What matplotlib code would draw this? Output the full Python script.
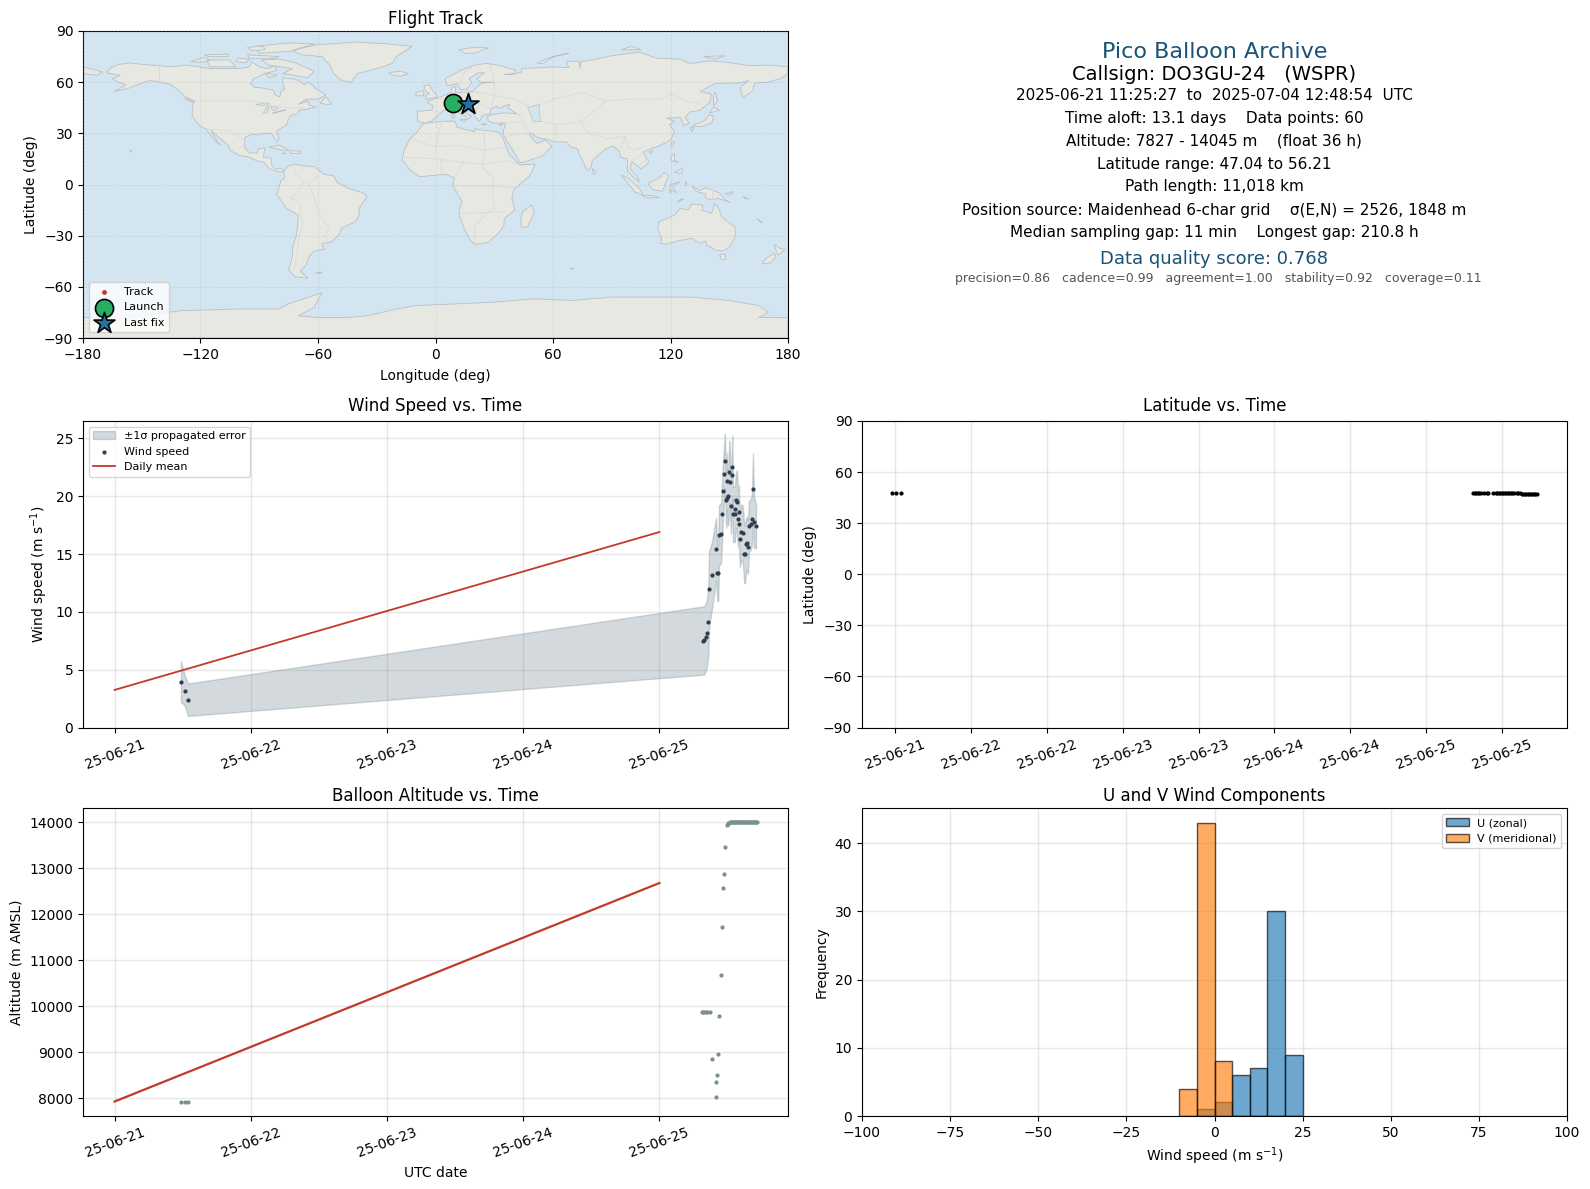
import datetime as dt
import numpy as np
import matplotlib
matplotlib.use("Agg")
import matplotlib.pyplot as plt
import matplotlib.dates as mdates
from matplotlib.patches import Polygon

# ---------- data ----------
T0 = mdates.date2num(dt.datetime(2025, 6, 21))
wind_t = [0.487, 0.516, 0.538, 4.322, 4.329, 4.342, 4.349, 4.359, 4.364, 4.386, 4.415, 4.425, 4.432, 4.437, 4.452,
          4.459, 4.466, 4.474, 4.481, 4.489, 4.496, 4.498, 4.506, 4.513, 4.518, 4.525, 4.533, 4.535, 4.540, 4.555,
          4.556, 4.562, 4.569, 4.577, 4.584, 4.585, 4.591, 4.599, 4.611, 4.623, 4.628, 4.638, 4.643, 4.650, 4.657,
          4.672, 4.679, 4.687, 4.694, 4.709]
wind_v = [3.96, 3.18, 2.40, 7.52, 7.55, 7.86, 8.21, 9.16, 11.94, 13.15, 15.41, 13.33, 13.33, 16.62, 16.77,
          18.44, 20.44, 21.94, 23.04, 19.66, 21.31, 19.83, 20.01, 22.09, 21.22, 19.14, 21.83, 22.52, 18.44, 18.44,
          18.88, 19.69, 19.51, 18.01, 18.62, 17.58, 16.28, 16.88, 16.80, 14.98, 14.98, 15.84, 15.93, 15.58, 17.40,
          17.58, 18.01, 20.61, 17.75, 17.40]
wind_s = [1.76, 1.30, 1.40, 2.95, 2.95, 2.90, 2.90, 2.90, 3.30, 2.90, 2.70, 2.40, 2.40, 2.60, 2.60,
          2.50, 2.50, 2.40, 2.35, 2.40, 2.45, 2.40, 2.45, 2.70, 2.50, 2.40, 2.60, 2.70, 2.40, 2.40,
          2.30, 2.40, 2.70, 2.40, 2.30, 2.40, 2.40, 2.40, 2.40, 2.50, 2.50, 2.30, 2.30, 2.30, 2.20,
          2.20, 2.20, 3.10, 2.20, 1.90]
mean_t = [0.0, 4.0]
wind_mean = [3.25, 16.9]
alt_mean = [7930, 12680]

alt_t = [0.487, 0.516, 0.538, 4.312, 4.320, 4.330, 4.340, 4.350, 4.373, 4.386, 4.415, 4.415, 4.422, 4.430, 4.437,
         4.452, 4.459, 4.466, 4.474, 4.481, 4.498, 4.502, 4.509, 4.516, 4.522, 4.530, 4.537, 4.544, 4.552, 4.558,
         4.566, 4.573, 4.580, 4.587, 4.594, 4.601, 4.608, 4.616, 4.623, 4.630, 4.637, 4.644, 4.651, 4.658, 4.666,
         4.673, 4.680, 4.687, 4.694, 4.702, 4.709, 4.716]
alt_m = [7920, 7920, 7920, 9870, 9870, 9870, 9870, 9870, 9870, 8848, 8022, 8348, 8500, 8957, 9783,
         10674, 11717, 12565, 12870, 13457, 13935, 13985, 13995, 14000, 14005, 14005, 14000, 14005, 14010, 14005,
         14005, 14010, 14010, 14005, 14005, 14010, 14005, 14005, 14010, 14005, 14005, 14010, 14005, 14005, 14010,
         14005, 14010, 14005, 14005, 14010, 14005, 14005]

lat_t = [0.476, 0.505, 0.538, 4.31, 4.32, 4.33, 4.34, 4.35, 4.36, 4.38, 4.40, 4.41, 4.44, 4.46, 4.47, 4.48, 4.49,
         4.50, 4.51, 4.52, 4.53, 4.54, 4.55, 4.56, 4.57, 4.58, 4.60, 4.61, 4.62, 4.63, 4.64, 4.65, 4.66, 4.67, 4.68,
         4.69, 4.70, 4.71, 4.72, 4.73]
lat_v = [47.9, 47.9, 47.9, 48.0, 48.0, 48.0, 48.0, 48.0, 48.0, 48.0, 48.0, 48.0, 48.0, 48.0, 48.0, 48.0, 48.0,
         48.0, 48.0, 48.0, 48.0, 48.0, 48.0, 48.0, 47.9, 47.9, 47.9, 47.8, 47.6, 47.4, 47.3, 47.3, 47.3, 47.3, 47.3,
         47.3, 47.4, 47.3, 47.3, 47.3]

track_lon = [9.0, 9.8, 10.6, 12.0, 14.0, 15.2, 16.5]
track_lat = [47.9, 47.9, 47.9, 48.0, 48.0, 47.6, 47.3]
launch = (9.0, 47.9)
last_fix = (16.5, 47.0)

bin_left = [-10, -5, 0, 5, 10, 15, 20]
u_counts = [0, 1, 2, 6, 7, 30, 9]
v_counts = [4, 43, 8, 0, 0, 0, 0]

day_ticks = [0, 1, 2, 3, 4]
half_day_ticks = [0.5, 1.0, 1.5, 2.0, 2.5, 3.0, 3.5, 4.0, 4.5]

LAND = {
 "north_america": [(-168,65.5),(-166,68.3),(-162,70.3),(-156.5,71.3),(-150,70.5),(-141,69.6),(-135,69),(-128,70),(-124,69.5),(-115,68),(-108,68),(-100,68),(-95,69),(-94,72),(-90,69),(-86,68),(-82,69.5),(-81,67),(-87,65),(-93,62),(-94.5,59),(-92.5,57),(-88,56.5),(-82.5,55),(-82,52.5),(-79.5,51.3),(-79,54.5),(-77,56),(-78,59),(-78,62.5),(-73,62),(-70,61),(-67,58.5),(-64.5,60.3),(-61.5,56.5),(-56,52.5),(-60,50),(-66,50),(-70,47),(-65,49),(-64.5,46.5),(-61,45.5),(-66,44),(-70,43.5),(-70,41.7),(-74,40.5),(-75.5,37.5),(-76,35),(-81,31.5),(-80,26.5),(-81,25),(-82.7,28),(-84,30),(-89,30),(-90,29),(-94,29.5),(-97.3,27.5),(-97.7,22),(-95,18.5),(-91,18.5),(-90.5,21),(-87,21.5),(-88,16),(-84,15.5),(-83.5,11),(-81.5,9),(-79.5,9.5),(-77.3,8.5),(-78,7.5),(-80.5,7.5),(-83,8.3),(-85.7,10),(-87.5,13),(-91.5,14),(-95,16),(-100,17),(-105,20),(-105.5,22.5),(-109,26),(-112.5,29.5),(-114.7,31.7),(-113,28),(-110,23),(-112,25),(-115,29),(-117.2,32.5),(-120.5,34.5),(-122.5,37.5),(-124.3,40.5),(-124,46),(-123,49),(-128,51.5),(-130.5,54.5),(-135,58.5),(-140,60),(-146,61),(-150,59.5),(-153,58),(-158,56),(-164,54.5),(-158,58.5),(-162,60),(-165,62),(-161,64)],
 "greenland": [(-73,78.2),(-68,80),(-60,82),(-40,83.5),(-25,82.5),(-12,81),(-20,75),(-22,71),(-30,68),(-40,65),(-43,60),(-48,61),(-52,65),(-54,70),(-58,75),(-68,76)],
 "baffin": [(-80,73.5),(-72,71.5),(-62,66.5),(-65,62.5),(-72,64),(-78,65),(-73,68),(-85,70),(-89,73)],
 "victoria": [(-117,73),(-105,73),(-102,69),(-115,69)],
 "ellesmere": [(-90,77),(-75,78),(-62,82.5),(-75,83),(-92,81)],
 "banks": [(-125,72),(-118,74.5),(-115,73),(-120,71.5)],
 "devon": [(-96,76),(-80,75),(-82,74),(-95,74)],
 "melville": [(-118,76),(-106,76.5),(-106,75),(-116,75)],
 "axel_heiberg": [(-96,80.5),(-88,81),(-87,79),(-94,78.5)],
 "prince_wales": [(-101,74),(-95,73.5),(-97,71.5),(-102,72)],
 "southampton": [(-87,65.5),(-81,64),(-85,62.5)],
 "newfoundland": [(-59,47.7),(-56,51.5),(-53,47),(-56,47)],
 "vancouver": [(-128,50.5),(-123.5,48.4),(-125,48.7)],
 "cuba": [(-85,22),(-80,23),(-74.5,20),(-78,20)],
 "hispaniola": [(-74,19.8),(-69,19.5),(-68.5,18.3),(-74,18.2)],
 "jamaica": [(-78.3,18.4),(-76.3,18.2),(-77,17.8)],
 "hawaii": [(-156,20.2),(-155,19.8),(-155.7,19)],
 "south_america": [(-77,8.5),(-75,11),(-72,12),(-68,11),(-62,10.5),(-57,6),(-52,5),(-50,1),(-44,-2.5),(-37,-4.8),(-35,-7),(-39,-14),(-39,-18),(-41,-22),(-48,-25.5),(-49,-29),(-53.5,-34),(-58,-34.5),(-57,-38),(-62,-39),(-65,-43),(-66,-47),(-69,-51),(-65,-55),(-72,-54),(-75,-50),(-73,-42),(-73,-37),(-71,-30),(-70,-18),(-76,-14),(-81,-6),(-80,-2),(-79,2),(-77,4),(-77.5,7)],
 "africa": [(-6,35.8),(3,37),(10,37.2),(11,33.5),(20,31),(20,32.7),(25,31.7),(32,31),(34,28),(35.5,24),(37.5,18),(40,15),(43,11.5),(51,12),(48,5),(40,-3),(39,-8),(40.5,-15),(35,-20),(35,-24),(32.5,-28),(27,-34),(20,-35),(18,-33),(15,-27),(11.8,-17),(13.5,-10),(9,-1),(9.5,4),(5,6),(-4,5),(-8,4.5),(-13,8.5),(-17,14.5),(-16,20),(-13,27),(-10,30)],
 "eurasia": [(-9,37),(-9.3,43),(-2,43.5),(-1,46),(-4.5,48.5),(2,51),(8,54),(8.5,57),(10.5,57.5),(10,54),(14,54),(19,54.5),(21,57),(24,59.5),(30,60),(23,60),(21,62),(25,65.5),(22,65.5),(17,62),(18.5,60),(16,56),(13,55.5),(11,59),(6,58),(5,62),(13,67),(20,70),(26,71),(32,70),(41,67),(40,65),(35,64.5),(40,64.7),(44,66),(44,68),(54,68.5),(60,69),(68,68.5),(67,72),(73,72.5),(74,68),(74,72),(80,73),(90,75.5),(104,77.7),(113,74),(125,73.5),(130,71),(140,72.5),(150,71.5),(160,69.7),(170,70),(180,69),(180,65),(177,62.5),(170,60),(163,59.5),(162,55),(157,51),(155.5,57),(160,61),(155,59.5),(143,59.3),(135,54.5),(141,53),(140,48),(135,43.5),(130,42.5),(127.5,39.5),(129.5,36),(126.5,34.5),(126,37),(125,39.5),(121.5,39),(118,39),(122,37),(119.5,35),(122,31),(120,26),(114,22.5),(110,21),(106,19),(109,13),(105,9),(103,11),(100,13.5),(99.5,9),(103.5,4),(104,1.5),(100.5,5),(98,8),(98,15),(94.5,16),(94,19),(91,22.5),(87,21),(82,16),(80,14),(79.5,10),(77.5,8),(73,19),(72.5,21),(69,22),(67,25),(61,25),(57,26.5),(52,27.5),(49,30),(48,29.5),(50,26),(52,24),(56,26),(59.5,22.5),(55,17),(45,13),(43,13),(39,21),(35,28),(34.5,31),(36,36),(30,36),(27,37),(26.5,40),(29,41),(35,42),(41.5,41.5),(37,45),(38,47),(35,46),(33.5,44.5),(31,46),(28,44),(28,41.5),(24,40.5),(23,38),(22,37),(20,40),(19,42),(14,45.5),(12.5,44),(16,41.5),(18.5,40),(16,38),(15.5,40),(11,42.5),(9,44.3),(4,43.5),(3,42),(0,39.5),(-2,37),(-5.5,36)],
 "chukotka": [(-180,69),(-175,67.5),(-170,66),(-173,64),(-180,65)],
 "iceland": [(-24,65.5),(-18,66.5),(-14,65),(-18,63.5),(-22,64)],
 "britain": [(-5,50),(1,51.2),(0,53),(-2,56),(-3,58.5),(-6,58),(-5,54.5),(-3,53.5),(-5,52)],
 "ireland": [(-10,52),(-6,52),(-6,55),(-10,54)],
 "sicily": [(12.5,38),(15.5,38.2),(15,36.8)],
 "sardinia": [(8.2,41),(9.7,41),(9.5,39),(8.5,39)],
 "crete": [(23.6,35.5),(26.2,35.2),(24.5,35)],
 "cyprus": [(32.4,35),(34.5,35.5),(33.5,34.7)],
 "svalbard": [(12,79),(20,80.5),(27,80),(20,77),(15,77)],
 "novaya_zemlya": [(52,71),(57,74),(68,77),(60,75),(55,71)],
 "severnaya": [(95,79),(105,79),(100,81)],
 "new_siberian": [(137,75),(148,75.5),(143,73.5)],
 "honshu": [(131,34),(136,34),(141,36),(142,40),(140,41),(137,37),(133,35.5)],
 "hokkaido": [(140,42),(145,43.5),(142,45.5)],
 "kyushu": [(130,33.5),(132,33),(131,31)],
 "sakhalin": [(142,46),(144,49),(143,54),(142,53)],
 "taiwan": [(120,23),(121,25),(122,25),(121,22)],
 "hainan": [(109,19),(111,20),(110,18.2)],
 "luzon": [(120,16),(122,18.5),(122,14),(124,13),(120.5,14)],
 "mindanao": [(122,7),(126,9.5),(126,6.5)],
 "borneo": [(109,1),(113,3),(117,7),(119,5),(117.5,1),(116,-4),(111,-3),(109,-0.5)],
 "sumatra": [(95,5.5),(98,4),(104,-2),(106,-6),(102,-4.5),(98,1)],
 "java": [(105.5,-6.5),(111,-6.5),(114.5,-7.7),(108,-7.8)],
 "sulawesi": [(119.5,-5),(120,0),(125,1.5),(121,-1),(123,-5),(120.7,-3)],
 "timor": [(123.5,-10.3),(127,-8.4),(125,-8.7)],
 "halmahera": [(127.5,2),(128.5,0),(127.8,-0.8)],
 "new_guinea": [(131,-1),(135,-3.5),(138,-1.7),(145,-5),(148,-9),(150.5,-10.5),(144,-8),(141,-9),(138,-8),(138,-5.5),(133,-4)],
 "new_britain": [(148,-5.5),(152,-4.2),(151,-6)],
 "solomons": [(157,-7),(160,-8.5),(158,-8.2)],
 "new_caledonia": [(164,-20),(167,-22.3),(166,-22.2)],
 "nz_north": [(173,-35),(176,-37.5),(178.5,-38),(175,-41.5),(174,-39)],
 "nz_south": [(172.5,-40.5),(174,-42),(171,-46),(167,-46.5),(168,-44)],
 "australia": [(114,-22),(113.5,-26),(115.5,-32),(115,-34.5),(118,-35),(124,-33),(131,-31.5),(135,-34.5),(138,-33),(138.5,-35.5),(143,-38.5),(146.5,-39),(150,-37),(153,-31),(153,-25),(146,-19),(145,-15),(142.5,-11),(141,-17),(136,-15),(136.5,-12),(131,-11.5),(129,-15),(125,-14),(122,-18),(117,-20.5)],
 "tasmania": [(145,-41),(148,-41),(148,-43.5),(146,-43.5)],
 "madagascar": [(49,-12),(50.5,-16),(47,-25),(44,-25),(43.5,-21),(44.5,-16)],
 "kerguelen": [(69,-49),(70.5,-49.2),(69.5,-49.7)],
 "sri_lanka": [(80,9.5),(82,7),(80.5,6)],
 "falklands": [(-61,-51.5),(-58,-51.5),(-59,-52.3)],
 "antarctica": [(-180,-78),(-160,-78),(-150,-77),(-130,-74),(-100,-73),(-80,-73),(-75,-70),(-62,-65),(-58,-63.5),(-60,-68),(-62,-72),(-70,-77),(-60,-78),(-45,-78),(-35,-77),(-20,-73),(-10,-71),(10,-70),(30,-69),(50,-67),(70,-68),(90,-66),(110,-66),(130,-66),(150,-68),(165,-71),(170,-75),(165,-78),(180,-78),(180,-90),(-180,-90)],
}
LAKES = {
 "caspian": [(47,45),(53,47),(53,40),(54,37),(50,37),(49,40)],
 "superior": [(-92,47),(-85,47.8),(-85,46.5),(-90,46.5)],
 "michigan": [(-88,42),(-86,45.5),(-85,45.5),(-86,42)],
 "huron": [(-84,46),(-80.5,45),(-82,43),(-83.5,44)],
 "erie_ontario": [(-83,42),(-76.5,44),(-76.5,43.3),(-79,43),(-83,41.5)],
}
BORDERS = [
 [(-123,49),(-95,49),(-88,48),(-83,46),(-75,45),(-67,45)],
 [(-141,60),(-141,69.6)],
 [(-117,32.5),(-106,31.7),(-97.5,26)],
 [(-72,12),(-72,7),(-67,1),(-70,-4),(-74,-8),(-69,-11),(-69,-17),(-68,-23),(-70,-33),(-72,-50)],
 [(-60,5),(-65,1),(-58,-20),(-54,-26),(-57,-30),(-53.5,-34)],
 [(-13,27),(0,22),(12,23),(25,20),(37,22)],
 [(-17,16),(0,15),(14,13),(24,12),(36,14),(42,12)],
 [(25,31.7),(25,20),(24,10),(30,3),(29,-4),(30,-14),(25,-18),(20,-25),(20,-35)],
 [(9.5,4),(14,13)], [(9,-1),(30,-1),(41,-2)], [(12,-17),(35,-16)], [(3,37),(0,22)], [(3,6),(3,15)],
 [(28,44),(30,52),(24,54),(14,54)], [(30,60),(30,52),(40,50),(48,46)],
 [(50,45),(60,50),(75,54),(87,49),(98,50),(115,50),(120,53),(131,48),(135,48)],
 [(87,49),(80,42),(74,37),(62,35),(61,25)], [(54,37),(62,35)],
 [(74,37),(78,30),(88,27),(97,28),(98,22),(101,20),(106,22)], [(97,28),(94,19)],
 [(36,36),(45,37),(48,30)], [(35,28),(45,30),(48,29)], [(45,37),(44,40),(41.5,41.5)],
 [(2,51),(8,48),(7,44)], [(-2,43.5),(3,42)], [(14,54),(13,48),(14,45.5)], [(8,48),(13,48),(22,48),(28,44)],
 [(22,48),(20,40)], [(30,60),(28,70)], [(20,70),(24,66)], [(12,59),(15,66),(20,70)],
 [(100,13.5),(105,18),(106,19)], [(103,11),(107,14)],
 [(141,-2.5),(141,-9)], [(117,5),(110,1)],
]

# ---------- layout ----------
W, H = 1590, 1189
def px_axes(l, t, r, b):
    return fig.add_axes([l / W, 1 - b / H, (r - l) / W, (b - t) / H])
plt.rcParams["axes.axisbelow"] = True
fig = plt.figure(figsize=(W / 100, H / 100), dpi=100)
ax_map = px_axes(83, 31, 788, 338)
ax_wind = px_axes(83, 421, 788, 727.5)
ax_lat = px_axes(862, 421, 1567, 727.5)
ax_alt = px_axes(83, 808, 788, 1116)
ax_hist = px_axes(862, 808, 1567, 1116)

GRID = dict(color="#b0b0b0", alpha=0.3, linewidth=1.0)

# ---------- map ----------
ax_map.set_facecolor("#d3e5f1")
for name, pts in LAND.items():
    ax_map.add_patch(Polygon(pts, closed=True, facecolor="#e8e8e3", edgecolor="#b9c0c4", linewidth=0.6, zorder=1))
for name, pts in LAKES.items():
    ax_map.add_patch(Polygon(pts, closed=True, facecolor="#d3e5f1", edgecolor="#b9c0c4", linewidth=0.5, zorder=1.1))
for line in BORDERS:
    xs, ys = zip(*line)
    ax_map.plot(xs, ys, color="#d9dad8", linewidth=0.6, zorder=1.2)
ax_map.grid(True, color="#9aa8ae", alpha=0.3, linewidth=0.5, linestyle="--", zorder=1.5)
ax_map.set_axisbelow(False)
ax_map.scatter(track_lon, track_lat, s=6, color="#c0392b", label="Track", zorder=3)
ax_map.scatter(*launch, s=170, color="#27ae60", edgecolor="black", linewidth=1.2, label="Launch", zorder=4)
ax_map.scatter(*last_fix, s=250, marker="*", color="#2471a3", edgecolor="black", linewidth=1.2, label="Last fix", zorder=5)
ax_map.set_xlim(-180, 180)
ax_map.set_ylim(-90, 90)
ax_map.set_xticks([-180, -120, -60, 0, 60, 120, 180])
ax_map.set_yticks([-90, -60, -30, 0, 30, 60, 90])
ax_map.set_xlabel("Longitude (deg)", labelpad=5)
ax_map.set_ylabel("Latitude (deg)")
ax_map.set_title("Flight Track", fontsize=12, pad=5)
ax_map.legend(loc="lower left", fontsize=8, framealpha=0.8)

# ---------- wind ----------
t_w = T0 + np.array(wind_t)
v_w = np.array(wind_v)
s_w = np.array(wind_s)
ax_wind.fill_between(t_w, v_w - s_w, v_w + s_w, color="#7f929a", alpha=0.34, label="\u00b11\u03c3 propagated error")
ax_wind.scatter(t_w, v_w, s=4, color="#2c3e50", label="Wind speed", zorder=3)
ax_wind.plot(T0 + np.array(mean_t), wind_mean, color="#c0392b", linewidth=1.3, label="Daily mean", zorder=2.5)
ax_wind.set_xlim(T0 - 0.232, T0 + 4.944)
ax_wind.set_ylim(0, 26.5)
ax_wind.set_ylabel("Wind speed (m s$^{-1}$)")
ax_wind.set_title("Wind Speed vs. Time", fontsize=12, pad=7)
ax_wind.legend(loc="upper left", fontsize=8, framealpha=0.8)

# ---------- latitude ----------
ax_lat.scatter(T0 + np.array(lat_t), lat_v, s=4, color="black", zorder=3)
ax_lat.set_xlim(T0 + 0.28, T0 + 4.93)
ax_lat.set_ylim(-90, 90)
ax_lat.set_yticks([-90, -60, -30, 0, 30, 60, 90])
ax_lat.set_ylabel("Latitude (deg)")
ax_lat.set_title("Latitude vs. Time", fontsize=12, pad=7)

# ---------- altitude ----------
ax_alt.scatter(T0 + np.array(alt_t), alt_m, s=4, color="#7a8f8f", zorder=3)
ax_alt.plot(T0 + np.array(mean_t), alt_mean, color="#c0392b", linewidth=1.6, zorder=2.5)
ax_alt.set_xlim(T0 - 0.232, T0 + 4.944)
ax_alt.set_ylim(7615, 14311)
ax_alt.set_ylabel("Altitude (m AMSL)")
ax_alt.set_xlabel("UTC date")
ax_alt.set_title("Balloon Altitude vs. Time", fontsize=12, pad=5)

for ax, ticks in ((ax_wind, day_ticks), (ax_alt, day_ticks), (ax_lat, half_day_ticks)):
    ax.set_xticks(T0 + np.array(ticks))
    ax.xaxis.set_major_formatter(mdates.DateFormatter("%y-%m-%d"))
    ax.tick_params(axis="x", labelrotation=20)

# ---------- histogram ----------
ax_hist.bar(bin_left, u_counts, width=5, align="edge", color="#1f77b4", alpha=0.65, edgecolor="black", linewidth=1.0, label="U (zonal)")
ax_hist.bar(bin_left, v_counts, width=5, align="edge", color="#ff7f0e", alpha=0.65, edgecolor="black", linewidth=1.0, label="V (meridional)")
ax_hist.set_xlim(-100, 100)
ax_hist.set_ylim(0, 45.15)
ax_hist.set_xlabel("Wind speed (m s$^{-1}$)")
ax_hist.set_ylabel("Frequency")
ax_hist.set_title("U and V Wind Components", fontsize=12, pad=5)
ax_hist.legend(loc="upper right", fontsize=8, framealpha=0.8)

for ax in (ax_wind, ax_lat, ax_alt, ax_hist):
    ax.grid(True, **GRID)

# ---------- text panel ----------
BLUE = "#1a5276"
lines = [
    ("Pico Balloon Archive", 52, 16, BLUE, 1214.5),
    ("Callsign: DO3GU-24   (WSPR)", 74, 14, "black", 1214.5),
    ("2025-06-21 11:25:27  to  2025-07-04 12:48:54  UTC", 95.5, 11, "black", 1214.5),
    ("Time aloft: 13.1 days    Data points: 60", 118.5, 11, "black", 1214.5),
    ("Altitude: 7827 - 14045 m    (float 36 h)", 140.5, 11, "black", 1214),
    ("Latitude range: 47.04 to 56.21", 164, 11, "black", 1214.5),
    ("Path length: 11,018 km", 187, 11, "black", 1214.5),
    ("Position source: Maidenhead 6-char grid    \u03c3(E,N) = 2526, 1848 m", 210.5, 11, "black", 1214.5),
    ("Median sampling gap: 11 min    Longest gap: 210.8 h", 233, 11, "black", 1214.5),
    ("Data quality score: 0.768", 258.5, 13, BLUE, 1214.5),
    ("precision=0.86   cadence=0.99   agreement=1.00   stability=0.92   coverage=0.11", 279, 9, "#555555", 1218.5),
]
for txt, y, fs, col, xpx in lines:
    fig.text(xpx / W, 1 - y / H, txt, ha="center", va="center", fontsize=fs, color=col)

fig.savefig("out.png", dpi=100)
